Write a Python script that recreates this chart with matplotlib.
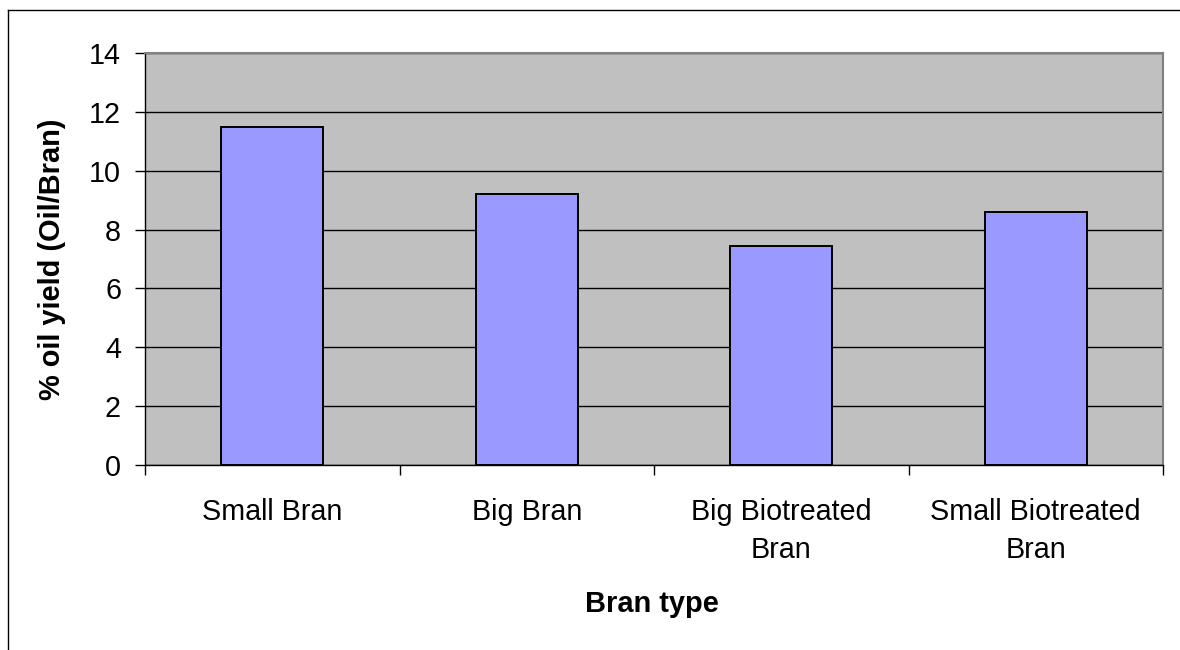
import matplotlib
matplotlib.use("Agg")
import matplotlib.pyplot as plt
from matplotlib.lines import Line2D
import numpy as np

categories = ["Small Bran", "Big Bran", "Big Biotreated\nBran", "Small Biotreated\nBran"]
values = [11.5, 9.22, 7.45, 8.6]
yticks = [0, 2, 4, 6, 8, 10, 12, 14]

plt.rcParams['font.family'] = ['Liberation Sans', 'DejaVu Sans']

W, H = 1180, 650
fig = plt.figure(figsize=(W/100, H/100), dpi=100)
ax = fig.add_axes([145/W, 1-465/H, (1163-145)/W, (465-53)/H])
ax.set_facecolor('#C0C0C0')

x = np.arange(len(categories))
ax.bar(x, values, width=0.4, color='#9999FF', edgecolor='black', linewidth=1.4, zorder=3)

ax.set_xlim(-0.5, len(categories)-0.5)
ax.set_ylim(0, 14)
ax.set_yticks(yticks)
ax.set_yticklabels([str(v) for v in yticks])
ax.yaxis.grid(True, color='black', linewidth=1.0, zorder=1)
ax.set_axisbelow(True)

ax.set_xticks(x)
ax.set_xticklabels(categories, linespacing=1.42)
ax.set_xticks(np.arange(len(categories)+1)-0.5, minor=True)
ax.tick_params(axis='x', which='major', length=0, pad=24, labelsize=20.7)
ax.tick_params(axis='x', which='minor', length=7.2, width=1, direction='out', color='black')
ax.tick_params(axis='y', which='major', length=7.2, width=1, direction='out', pad=10, labelsize=20.7)

for s in ['top', 'right']:
    ax.spines[s].set_color('#808080')
    ax.spines[s].set_linewidth(1.5)
for s in ['left', 'bottom']:
    ax.spines[s].set_color('black')
    ax.spines[s].set_linewidth(1.0)

fig.text(52/W, 1-259/H, "% oil yield (Oil/Bran)", rotation=90, ha='center', va='center',
         fontsize=20.9, fontweight='bold')
fig.text(652/W, 1-604/H, "Bran type", ha='center', va='center', fontsize=20.9, fontweight='bold')

# outer chart frame (top and left edges visible)
fig.add_artist(Line2D([7.5/W, 7.5/W], [0, 1-9.5/H], transform=fig.transFigure, color='black', linewidth=1.0))
fig.add_artist(Line2D([7.5/W, 1.0], [1-9.5/H, 1-9.5/H], transform=fig.transFigure, color='black', linewidth=1.0))

fig.savefig("out.png", dpi=100)
